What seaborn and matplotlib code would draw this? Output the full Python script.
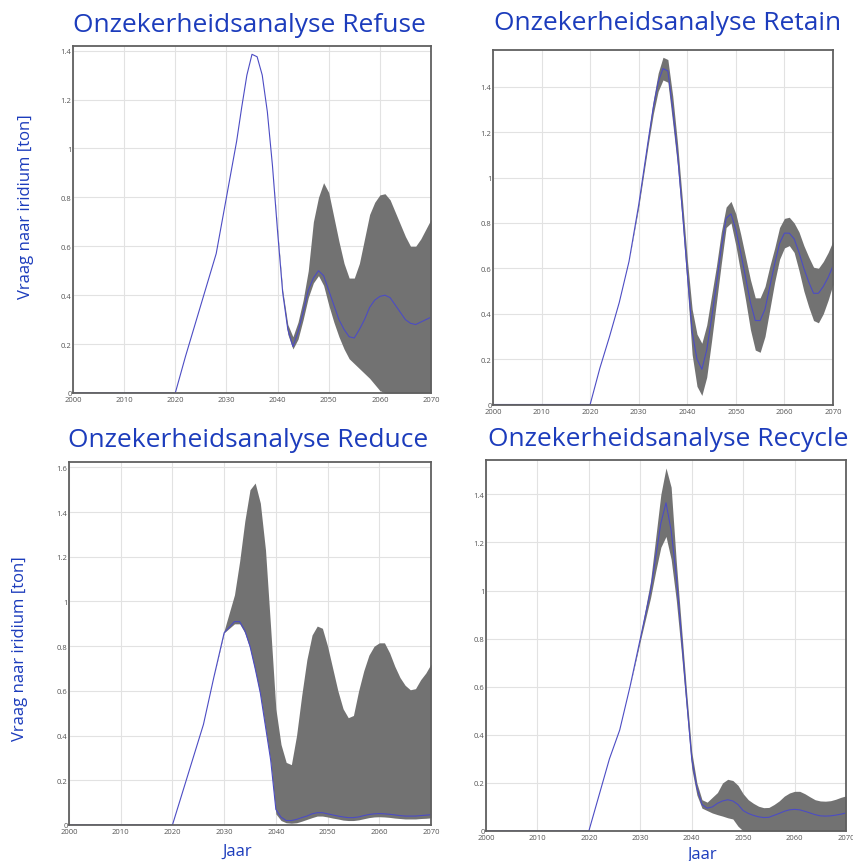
import numpy as np
import pandas as pd
import seaborn as sns
import matplotlib.pyplot as plt

years = [2000, 2020, 2022, 2024, 2026, 2028, 2030, 2032, 2033, 2034, 2035, 2036, 2037, 2038, 2039,
         2040, 2041, 2042, 2043, 2044, 2045, 2046, 2047, 2048, 2049,
         2050, 2051, 2052, 2053, 2054, 2055, 2056, 2057, 2058, 2059,
         2060, 2061, 2062, 2063, 2064, 2065, 2066, 2067, 2068, 2069, 2070]

refuse_mean = [0, 0, 0.15, 0.29, 0.43, 0.57, 0.80, 1.03, 1.17, 1.30, 1.385, 1.375, 1.30, 1.15, 0.93,
               0.66, 0.41, 0.26, 0.19, 0.25, 0.33, 0.42, 0.47, 0.50, 0.48,
               0.42, 0.36, 0.30, 0.26, 0.23, 0.225, 0.26, 0.30, 0.35, 0.38,
               0.395, 0.40, 0.39, 0.36, 0.33, 0.30, 0.285, 0.28, 0.29, 0.30, 0.31]
refuse_low = [0, 0, 0.15, 0.29, 0.43, 0.57, 0.80, 1.03, 1.17, 1.30, 1.385, 1.375, 1.30, 1.15, 0.93,
              0.66, 0.40, 0.24, 0.18, 0.22, 0.30, 0.39, 0.45, 0.48, 0.44,
              0.36, 0.29, 0.23, 0.18, 0.14, 0.12, 0.10, 0.08, 0.06, 0.035,
              0.01, 0, 0, 0, 0, 0, 0, 0, 0, 0, 0]
refuse_high = [0, 0, 0.15, 0.29, 0.43, 0.57, 0.80, 1.03, 1.17, 1.30, 1.385, 1.375, 1.30, 1.15, 0.93,
               0.67, 0.42, 0.28, 0.23, 0.29, 0.38, 0.50, 0.70, 0.80, 0.86,
               0.82, 0.72, 0.62, 0.53, 0.47, 0.47, 0.53, 0.63, 0.73, 0.78,
               0.81, 0.815, 0.79, 0.74, 0.69, 0.64, 0.60, 0.60, 0.63, 0.67, 0.71]

retain_mean = [0, 0, 0.16, 0.30, 0.45, 0.63, 0.88, 1.17, 1.31, 1.42, 1.48, 1.47, 1.30, 1.10, 0.85,
               0.58, 0.32, 0.20, 0.155, 0.24, 0.38, 0.53, 0.69, 0.82, 0.84,
               0.77, 0.67, 0.56, 0.45, 0.37, 0.37, 0.42, 0.52, 0.62, 0.71,
               0.755, 0.755, 0.73, 0.67, 0.60, 0.54, 0.49, 0.49, 0.52, 0.56, 0.61]
retain_low = [0, 0, 0.16, 0.30, 0.45, 0.63, 0.87, 1.15, 1.28, 1.38, 1.43, 1.42, 1.24, 1.05, 0.80,
              0.52, 0.22, 0.08, 0.04, 0.12, 0.28, 0.45, 0.62, 0.78, 0.80,
              0.70, 0.58, 0.46, 0.33, 0.24, 0.23, 0.30, 0.42, 0.54, 0.64,
              0.69, 0.70, 0.67, 0.59, 0.50, 0.43, 0.37, 0.36, 0.40, 0.46, 0.53]
retain_high = [0, 0, 0.16, 0.30, 0.45, 0.63, 0.89, 1.19, 1.34, 1.46, 1.53, 1.52, 1.36, 1.15, 0.90,
               0.64, 0.42, 0.31, 0.27, 0.35, 0.48, 0.61, 0.76, 0.87, 0.895,
               0.84, 0.75, 0.65, 0.55, 0.47, 0.47, 0.52, 0.61, 0.69, 0.78,
               0.82, 0.825, 0.80, 0.76, 0.70, 0.65, 0.605, 0.60, 0.63, 0.67, 0.72]

reduce_mean = [0, 0, 0.15, 0.30, 0.45, 0.66, 0.86, 0.91, 0.91, 0.87, 0.80, 0.70, 0.59, 0.44, 0.29,
               0.07, 0.035, 0.02, 0.02, 0.025, 0.033, 0.04, 0.05, 0.055, 0.055,
               0.05, 0.045, 0.04, 0.036, 0.033, 0.033, 0.036, 0.042, 0.047, 0.05,
               0.051, 0.05, 0.048, 0.045, 0.042, 0.04, 0.04, 0.04, 0.042, 0.044, 0.046]
reduce_low = [0, 0, 0.15, 0.30, 0.45, 0.66, 0.86, 0.90, 0.90, 0.86, 0.79, 0.69, 0.58, 0.43, 0.28,
              0.05, 0.02, 0.01, 0.008, 0.01, 0.017, 0.025, 0.033, 0.04, 0.04,
              0.036, 0.031, 0.027, 0.022, 0.02, 0.02, 0.023, 0.028, 0.033, 0.036,
              0.037, 0.036, 0.034, 0.031, 0.029, 0.027, 0.027, 0.027, 0.029, 0.03, 0.032]
reduce_high = [0, 0, 0.15, 0.30, 0.45, 0.66, 0.87, 1.03, 1.18, 1.36, 1.50, 1.53, 1.44, 1.23, 0.88,
               0.52, 0.36, 0.28, 0.27, 0.40, 0.58, 0.74, 0.85, 0.89, 0.88,
               0.80, 0.70, 0.60, 0.52, 0.48, 0.49, 0.60, 0.69, 0.76, 0.80,
               0.815, 0.815, 0.77, 0.71, 0.66, 0.625, 0.605, 0.61, 0.65, 0.68, 0.72]

recycle_mean = [0, 0, 0.15, 0.30, 0.42, 0.60, 0.80, 1.00, 1.14, 1.28, 1.365, 1.25, 1.06, 0.81, 0.55,
                0.30, 0.18, 0.11, 0.095, 0.10, 0.115, 0.125, 0.13, 0.125, 0.11,
                0.085, 0.073, 0.065, 0.059, 0.056, 0.057, 0.065, 0.073, 0.082, 0.088,
                0.09, 0.088, 0.082, 0.075, 0.068, 0.063, 0.062, 0.063, 0.066, 0.07, 0.075]
recycle_low = [0, 0, 0.15, 0.30, 0.42, 0.60, 0.79, 0.97, 1.08, 1.18, 1.225, 1.13, 0.96, 0.74, 0.50,
               0.26, 0.15, 0.095, 0.085, 0.075, 0.068, 0.062, 0.055, 0.05, 0.02,
               0, 0, 0, 0, 0, 0, 0, 0, 0, 0,
               0, 0, 0, 0, 0, 0, 0, 0, 0, 0, 0]
recycle_high = [0, 0, 0.15, 0.30, 0.42, 0.60, 0.81, 1.04, 1.22, 1.40, 1.51, 1.43, 1.12, 0.85, 0.58,
                0.33, 0.20, 0.13, 0.12, 0.14, 0.16, 0.20, 0.215, 0.21, 0.19,
                0.155, 0.13, 0.115, 0.103, 0.097, 0.098, 0.11, 0.125, 0.145, 0.158,
                0.165, 0.165, 0.155, 0.142, 0.13, 0.125, 0.124, 0.126, 0.132, 0.14, 0.146]

xticks = [2000, 2010, 2020, 2030, 2040, 2050, 2060, 2070]
yticks_14 = [0, 0.2, 0.4, 0.6, 0.8, 1, 1.2, 1.4]
yticks_16 = [0, 0.2, 0.4, 0.6, 0.8, 1, 1.2, 1.4, 1.6]

blue = '#1c3cbc'
line_blue = '#4c4cc4'
band_grey = '#727272'

sns.set_style("whitegrid")
plt.rcParams['font.family'] = ['Open Sans', 'DejaVu Sans']

fig = plt.figure(figsize=(8.54, 8.62), dpi=100)

W, H = 854, 862

def px_axes(left, top, right, bottom):
    return fig.add_axes([left / W, (H - bottom) / H, (right - left) / W, (bottom - top) / H])

panels = [
    ("Refuse", refuse_mean, refuse_low, refuse_high, (73, 47, 431, 394), 1.419, yticks_14, (249, 25)),
    ("Retain", retain_mean, retain_low, retain_high, (493, 51, 833, 405.5), 1.562, yticks_14, (668, 23)),
    ("Reduce", reduce_mean, reduce_low, reduce_high, (69, 463, 431, 826), 1.624, yticks_16, (248, 441)),
    ("Recycle", recycle_mean, recycle_low, recycle_high, (486, 461, 846, 832), 1.543, yticks_14, (668, 440)),
]

for name, mean, low, high, box, ymax, yt, tpos in panels:
    ax = px_axes(*box)
    ax.fill_between(years, low, high, color=band_grey, linewidth=0)
    sns.lineplot(x=years, y=mean, ax=ax, color=line_blue, linewidth=0.8)
    ax.set_xlim(2000, 2070)
    ax.set_ylim(0, ymax)
    ax.set_xticks(xticks)
    ax.set_yticks(yt)
    ax.set_yticklabels([f"{v:g}" for v in yt])
    ax.tick_params(axis='y', length=0, pad=1, labelsize=5.5, labelcolor='#555555')
    ax.tick_params(axis='x', length=0, pad=2.5, labelsize=5.5, labelcolor='#555555')
    ax.grid(True, color='#e2e2e2', linewidth=0.8)
    for s in ax.spines.values():
        s.set_color('#606060')
        s.set_linewidth(1.3)
    ax.set_xlabel("")
    ax.set_ylabel("")
    fig.text(tpos[0] / W, 1 - tpos[1] / H, "Onzekerheidsanalyse " + name,
             ha='center', va='center', fontsize=19, color=blue)

fig.text(26 / W, 1 - 207 / H, "Vraag naar iridium [ton]", rotation=90,
         ha='center', va='center', fontsize=12, color=blue)
fig.text(20 / W, 1 - 649 / H, "Vraag naar iridium [ton]", rotation=90,
         ha='center', va='center', fontsize=12, color=blue)
fig.text(237 / W, 1 - 852 / H, "Jaar", ha='center', va='center', fontsize=12, color=blue)
fig.text(702 / W, 1 - 855 / H, "Jaar", ha='center', va='center', fontsize=12, color=blue)

fig.savefig("out.png", dpi=100)
